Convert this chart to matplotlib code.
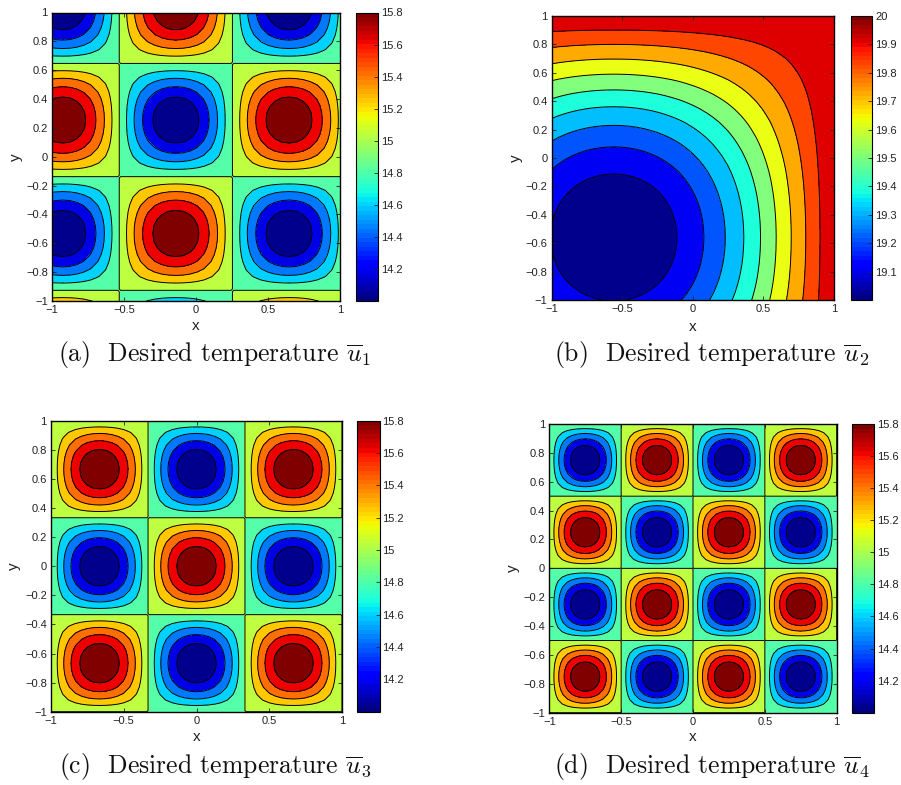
import matplotlib
matplotlib.use("Agg")
import numpy as np
import matplotlib.pyplot as plt
from matplotlib.cm import ScalarMappable
from matplotlib.colors import BoundaryNorm, ListedColormap, Normalize

# one half wave, read across a cell of the picture (node to node)
lobe_pos = [0.0, 0.012, 0.0625, 0.125, 0.1875, 0.25, 0.3125, 0.375, 0.4375, 0.5,
            0.5625, 0.625, 0.6875, 0.75, 0.8125, 0.875, 0.9375, 0.988, 1.0]
lobe = [0.0, 0.038, 0.195, 0.383, 0.556, 0.707, 0.831, 0.924, 0.981, 1.0,
        0.981, 0.924, 0.831, 0.707, 0.556, 0.383, 0.195, 0.038, 0.0]

a_x_nodes = [-1.319, -0.533, 0.253, 1.039]
a_y_nodes = [-1.712, -0.926, -0.138, 0.647, 1.433]
c_nodes = [-1.0, -0.333, 0.333, 1.0]
d_nodes = [-1.0, -0.5, 0.0, 0.5, 1.0]

# sign of each lobe, left to right / bottom to top
a_x_signs = [1, -1, 1]
a_y_signs = [1, -1, 1, -1]
c_x_signs = [1, -1, 1]
c_y_signs = [1, -1, 1]
d_x_signs = [1, -1, 1, -1]
d_y_signs = [1, -1, 1, -1]

wave_mid = 14.9
wave_amp = 0.9
wave_levels = [14.0, 14.18, 14.36, 14.54, 14.72, 14.9, 15.08, 15.26, 15.44, 15.62, 15.8]
wave_colors = ["#00008c", "#0000e6", "#0078ff", "#00d2ff", "#55ffaa",
               "#beff41", "#ffc800", "#ff6e00", "#ee0000", "#800000"]
wave_ticks = [14.2, 14.4, 14.6, 14.8, 15.0, 15.2, 15.4, 15.6, 15.8]
wave_tick_labels = ["14.2", "14.4", "14.6", "14.8", "15", "15.2", "15.4", "15.6", "15.8"]

# panel b: drop below 20 along a line, x and y share the same profile
b_x = [-1.0, -0.95, -0.9, -0.85, -0.8, -0.75, -0.7, -0.65, -0.6, -0.55, -0.5,
       -0.45, -0.4, -0.35, -0.3, -0.25, -0.2, -0.15, -0.1, -0.05, 0.0,
       0.05, 0.1, 0.15, 0.2, 0.25, 0.3, 0.35, 0.4, 0.45, 0.5,
       0.55, 0.6, 0.65, 0.7, 0.75, 0.8, 0.85, 0.9, 0.95, 1.0]
b_drop = [0.903, 0.924, 0.942, 0.958, 0.971, 0.982, 0.990, 0.996, 0.999, 1.0, 0.998,
          0.994, 0.987, 0.978, 0.966, 0.952, 0.935, 0.916, 0.895, 0.871, 0.845,
          0.817, 0.787, 0.755, 0.721, 0.686, 0.648, 0.609, 0.568, 0.526, 0.482,
          0.438, 0.391, 0.345, 0.297, 0.249, 0.200, 0.150, 0.101, 0.051, 0.0]
b_levels = [19.0, 19.1, 19.2, 19.3, 19.4, 19.5, 19.6, 19.7, 19.8, 19.9, 20.0]
b_colors = ["#00008c", "#0000f5", "#0055ff", "#00beff", "#1effdc",
            "#82ff7d", "#ebff14", "#ffaa00", "#ff4600", "#de0000"]
b_ticks = [19.1, 19.2, 19.3, 19.4, 19.5, 19.6, 19.7, 19.8, 19.9, 20.0]
b_tick_labels = ["19.1", "19.2", "19.3", "19.4", "19.5", "19.6", "19.7", "19.8", "19.9", "20"]

captions = ["(a)  Desired temperature $\\overline{u}_1$",
            "(b)  Desired temperature $\\overline{u}_2$",
            "(c)  Desired temperature $\\overline{u}_3$",
            "(d)  Desired temperature $\\overline{u}_4$"]

W, H = 901, 785


def wave_profile(nodes, signs):
    # stretch the read lobe between the nodal lines
    pos = np.array(lobe_pos)
    xs, vals = [], []
    for i, s in enumerate(signs):
        xs.extend(nodes[i] + pos[:-1] * (nodes[i + 1] - nodes[i]))
        vals.extend(s * np.array(lobe[:-1]))
    xs.append(nodes[-1])
    vals.append(0.0)
    return np.array(xs), np.array(vals)


def wave_field(x_nodes, x_signs, y_nodes, y_signs):
    x, fx = wave_profile(x_nodes, x_signs)
    y, fy = wave_profile(y_nodes, y_signs)
    return x, y, wave_mid + wave_amp * np.outer(fy, fx)


def px_axes(fig, left, right, top, bottom):
    return fig.add_axes([left / W, 1 - bottom / H, (right - left) / W, (bottom - top) / H])


def draw_panel(fig, box, cbox, x, y, z, levels, colors, vmin, vmax, ticks, tick_labels,
               caption, cap_xy, xlab_y, ylab_x):
    ax = px_axes(fig, *box)
    cmap = ListedColormap(colors)
    norm = BoundaryNorm(levels, cmap.N)
    ax.contourf(x, y, z, levels=levels, cmap=cmap, norm=norm)
    ax.contour(x, y, z, levels=levels[1:-1], colors="k", linewidths=0.7)
    ax.set_xlim(-1, 1)
    ax.set_ylim(-1, 1)
    ax.set_aspect("auto")
    ax.set_xticks([-1, -0.5, 0, 0.5, 1])
    ax.set_xticklabels(["\u22121", "\u22120.5", "0", "0.5", "1"])
    yt = np.arange(-10, 11, 2) / 10
    ax.set_yticks(yt)
    ax.set_yticklabels([f"{v:g}".replace("-", "\u2212") for v in yt])
    ax.tick_params(direction="in", top=True, right=True, length=3, width=0.6,
                   labelsize=8, pad=3, colors="#222222")
    for sp in ax.spines.values():
        sp.set_linewidth(1.0)
    fig.text(sum(box[:2]) / 2 / W, 1 - xlab_y / H, "x", fontsize=11,
             ha="center", va="center", color="#222222")
    fig.text(ylab_x / W, 1 - sum(box[2:]) / 2 / H, "y", fontsize=11, rotation=90,
             ha="center", va="center", color="#222222")

    cax = px_axes(fig, *cbox)
    sm = ScalarMappable(norm=Normalize(vmin, vmax), cmap=plt.get_cmap("jet", 64))
    cb = fig.colorbar(sm, cax=cax)
    cb.set_ticks(ticks)
    cb.set_ticklabels(tick_labels)
    cb.ax.tick_params(direction="in", length=3, width=0.6, labelsize=8, pad=2, colors="#222222")
    cb.outline.set_linewidth(0.8)

    fig.text(cap_xy[0] / W, 1 - cap_xy[1] / H, caption, family="cmr10", fontsize=18.5,
             ha="center", va="center", color="#111111")


def main():
    plt.rcParams["font.family"] = ["Liberation Sans", "DejaVu Sans"]
    plt.rcParams["mathtext.fontset"] = "cm"
    plt.rcParams["axes.unicode_minus"] = False

    fig = plt.figure(figsize=(W / 100, H / 100), dpi=100)

    x, y, z = wave_field(a_x_nodes, a_x_signs, a_y_nodes, a_y_signs)
    draw_panel(fig, (52, 340, 12.5, 301), (356, 378, 12.5, 301), x, y, z, wave_levels, wave_colors,
               14.0, 15.8, wave_ticks, wave_tick_labels, captions[0], (215, 355), 326, 16)

    b_z = 20 - np.outer(b_drop, b_drop)
    draw_panel(fig, (551.7, 834, 16, 300), (850.7, 872.3, 16, 300), b_x, b_x, b_z, b_levels, b_colors,
               19.0, 20.0, b_ticks, b_tick_labels, captions[1], (712, 355), 327, 516)

    x, y, z = wave_field(c_nodes, c_x_signs, c_nodes, c_y_signs)
    draw_panel(fig, (51, 342, 420.7, 711.7), (357.3, 379.5, 420.7, 711.7), x, y, z, wave_levels, wave_colors,
               14.0, 15.8, wave_ticks, wave_tick_labels, captions[2], (215, 767), 737, 14)

    x, y, z = wave_field(d_nodes, d_x_signs, d_nodes, d_y_signs)
    draw_panel(fig, (549.3, 836.7, 424, 712.7), (852.3, 874.3, 424, 712.7), x, y, z, wave_levels, wave_colors,
               14.0, 15.8, wave_ticks, wave_tick_labels, captions[3], (712, 767), 737, 513)

    fig.savefig("out.png", dpi=100)
    plt.close(fig)


if __name__ == "__main__":
    main()
